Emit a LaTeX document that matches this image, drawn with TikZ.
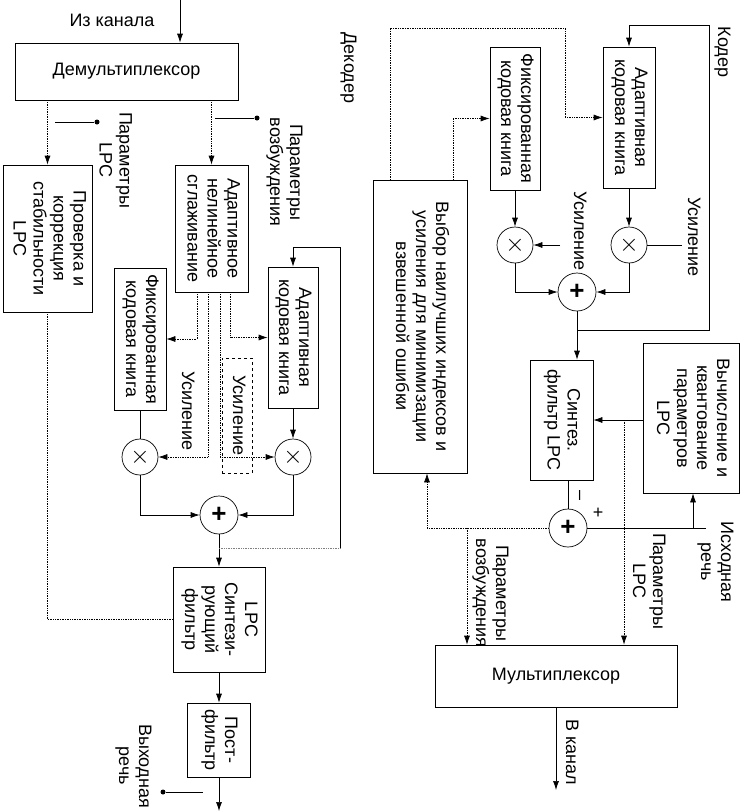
\documentclass[tikz,border=0pt]{standalone}
\usepackage{fontspec}
\setmainfont{Liberation Sans}
\usepackage{graphicx}
\usetikzlibrary{arrows.meta}
\newcommand{\vtext}[1]{\rotatebox{-90}{\begin{tabular}{@{}c@{}}#1\end{tabular}}}
\tikzset{block/.style={draw,rectangle,inner sep=0pt}}
\tikzset{mult/.style={draw,circle,minimum size=36pt,inner sep=0pt,font=\fontsize{24}{24}\selectfont}}
\tikzset{adder/.style={mult,minimum size=38pt,font=\fontsize{26}{26}\selectfont\bfseries}}
\tikzset{ctrl/.style={densely dotted}}
\tikzset{marker/.style={circle,fill,inner sep=0pt,minimum size=5pt}}
\tikzset{txt/.style={inner sep=0pt}}

\begin{document}
\begin{tikzpicture}[x=1pt,y=-1pt,line width=0.7pt,>={Latex[length=9pt,width=6pt]},
    font=\fontsize{18}{20}\selectfont]
    \useasboundingbox (0,0) rectangle (741,811);
    % decoder
    \node[txt] (chin) at (112,20) {Из канала};
    \coordinate (inD) at (180,0);
    \node[block,minimum width=223pt,minimum height=57pt] (demux) at (126.5,71.5) {Демультиплексор};
    \node[block,minimum width=89pt,minimum height=147pt] (chk) at (47.5,238.5) {\vtext{Проверка и\\коррекция\\стабильности\\LPC}};
    \node[block,minimum width=73pt,minimum height=127pt] (smooth) at (211.5,228.5) {\vtext{Адаптивное\\нелинейное\\сглаживание}};
    \node[block,minimum width=52pt,minimum height=142pt] (dfix) at (140,339) {\vtext{Фиксированная\\кодовая книга}};
    \node[block,minimum width=50pt,minimum height=141pt] (dada) at (293,337.5) {\vtext{Адаптивная\\кодовая книга}};
    \node[mult] (dmulA) at (140,457) {$\times$};
    \node[mult] (dmulB) at (293,457) {$\times$};
    \node[adder] (dsum) at (219,515) {+};
    \node[block,minimum width=92pt,minimum height=105pt] (dsyn) at (219,619.5) {\vtext{LPC\\Синтези-\\рующий\\фильтр}};
    \node[block,minimum width=63pt,minimum height=74pt] (dpost) at (219,740) {\vtext{Пост-\\фильтр}};
    \coordinate (dout) at (219,811);
    \node[marker] (mkLD) at (97,122) {};
    \coordinate (mkLDe) at (55,122);
    \node[txt] (lpcD) at (113.5,160) {\vtext{Параметры\\LPC}};
    \node[marker] (mkXD) at (257,118) {};
    \coordinate (mkXDe) at (215,118);
    \node[txt] (excD) at (284,172) {\vtext{Параметры\\возбуждения}};
    \node[txt] (gDA) at (186,411) {\vtext{Усиление}};
    \node[txt,draw,dashed,minimum width=30pt,minimum height=115pt] (gDB) at (237,415.5) {\vtext{Усиление}};
    \node[marker] (mkOD) at (163,792) {};
    \coordinate (mkODe) at (203,792);
    \node[txt] (outD) at (133,766) {\vtext{Выходная\\речь}};
    \node[txt] (dec) at (348,68) {\vtext{Декодер}};
    \coordinate (fbD) at (219,548);
    \coordinate (fbDc) at (340,247);

    \draw[->] (inD) -- (inD |- demux.north);
    \draw[ctrl,->] (demux.south -| chk.north) -- (chk.north);
    \draw[ctrl,->] (demux.south -| smooth.north) -- (smooth.north);
    \draw (mkLD) -- (mkLDe);
    \draw (mkXD) -- (mkXDe);
    \draw[ctrl,->] ([xshift=-14.5pt]smooth.south) |- (dfix);
    \draw[ctrl,->] ([xshift=-3.5pt]smooth.south) |- (dmulA);
    \draw[ctrl,->] ([xshift=8.5pt]smooth.south) |- (dmulB);
    \draw[ctrl,->] ([xshift=18.5pt]smooth.south) |- (dada);
    \draw (dfix) -- (dmulA);
    \draw[->] (dada) -- (dmulB);
    \draw[->] (dmulA) |- (dsum);
    \draw[->] (dmulB) |- (dsum);
    \draw[->] (dsum) -- (dsyn);
    \draw[->] (dsyn) -- (dpost);
    \draw[->] (dpost) -- (dout);
    \draw (mkOD) -- (mkODe);
    \draw[ctrl] (chk.south) |- (dsyn.west);
    \draw[ctrl,gray] (fbD) -- (fbD -| fbDc);
    \draw[->] (fbD -| fbDc) -- (fbDc) -| (dada.north);

    % encoder
    \node[txt] (enc) at (722,52) {\vtext{Кодер}};
    \node[block,minimum width=50pt,minimum height=143pt] (efix) at (515,118.5) {\vtext{Фиксированная\\кодовая книга}};
    \node[block,minimum width=52pt,minimum height=141pt] (eada) at (629,117.5) {\vtext{Адаптивная\\кодовая книга}};
    \node[mult] (emulA) at (515,245) {$\times$};
    \node[mult] (emulB) at (629,245) {$\times$};
    \node[adder] (esum) at (577,292) {+};
    \node[txt] (gEA) at (578,231) {\vtext{Усиление}};
    \coordinate (gEAs) at (560,245);
    \node[txt] (gEB) at (692,237) {\vtext{Усиление}};
    \node[block,minimum width=63pt,minimum height=120pt] (esyn) at (561.5,420) {\vtext{Синтез.\\фильтр LPC}};
    \node[block,minimum width=96pt,minimum height=150pt] (elpc) at (691,418) {\vtext{Вычисление и\\квантование\\параметров\\LPC}};
    \node[adder] (eerr) at (568,528) {+};
    \node[txt] (mn) at (579,495) {\vtext{--}};
    \node[txt] (pl) at (598,513) {+};
    \coordinate (spIn) at (706,528);
    \coordinate (spTap) at (693,528);
    \node[txt] (spL) at (715,562) {\vtext{Исходная\\речь}};
    \node[block,minimum width=94pt,minimum height=293pt] (esel) at (420,326.5) {\vtext{Выбор наилучших индексов и\\усиления для минимизации\\взвешенной ошибки}};
    \node[block,minimum width=242pt,minimum height=62pt] (emux) at (556,676) {Мультиплексор};
    \coordinate (eout) at (556,790);
    \node[txt] (chout) at (570,752) {\vtext{В канал}};
    \coordinate (exTap) at (467,528);
    \coordinate (lpTap) at (624,420);
    \node[txt] (excE) at (490,593) {\vtext{Параметры\\возбуждения}};
    \node[txt] (lpcE) at (647,581) {\vtext{Параметры\\LPC}};
    \coordinate (selTop) at (565,28);
    \coordinate (fbE) at (577,330);
    \coordinate (fbEc) at (709,25);

    \draw[->] (efix) -- (emulA);
    \draw[->] (eada) -- (emulB);
    \draw[->] (gEAs) -- (emulA);
    \draw (emulB) -- (emulB -| gEB.west);
    \draw[->] (emulA) |- (esum);
    \draw[->] (emulB) |- (esum);
    \draw[->] (esum) -- (esum |- esyn.north);
    \draw[->] (fbE) -| (fbEc) -| (eada.north);
    \draw[->] (esyn.east -| elpc.west) -- (esyn.east);
    \draw (eerr |- esyn.south) -- (eerr);
    \draw (spIn) -- (eerr);
    \draw[->] (spTap) -- (spTap |- elpc.south);
    \draw[ctrl,->] (eerr) -| ([xshift=7pt]esel.south);
    \draw[ctrl,->] (exTap) -- (exTap |- emux.north);
    \draw[ctrl,->] (lpTap) -- (lpTap |- emux.north);
    \draw[->] (emux) -- (eout);
    \draw[ctrl,->] ([xshift=-30pt]esel.north) |- (selTop) |- (eada);
    \draw[ctrl,->] ([xshift=33pt]esel.north) |- (efix);
\end{tikzpicture}
\end{document}
